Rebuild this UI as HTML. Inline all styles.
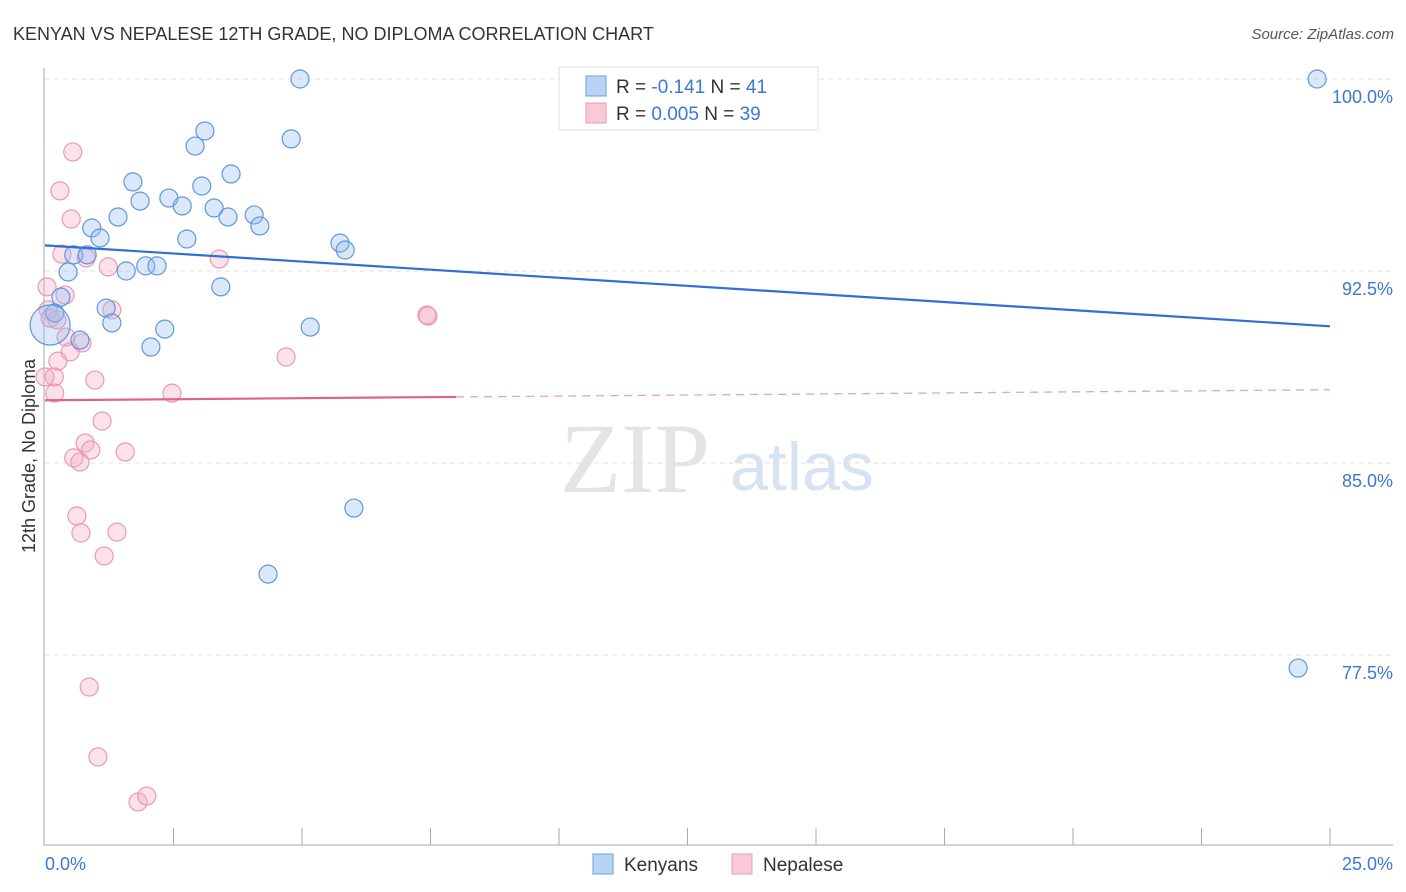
<!DOCTYPE html>
<html><head><meta charset="utf-8"><style>
body{margin:0;background:#fff;font-family:"Liberation Sans",sans-serif}
svg{display:block}
</style></head><body>
<svg width="1406" height="892" font-family="Liberation Sans, sans-serif">
<text x="13" y="40" font-size="18" fill="#333">KENYAN VS NEPALESE 12TH GRADE, NO DIPLOMA CORRELATION CHART</text>
<text x="1394" y="39" font-size="15" fill="#555" text-anchor="end" font-style="italic">Source: ZipAtlas.com</text>
<text x="635" y="492" font-size="100" fill="#e4e4e4" font-family="Liberation Serif, serif" text-anchor="middle">ZIP</text>
<text x="802" y="490" font-size="68" fill="#d6e3f3" text-anchor="middle">atlas</text>
<g id="grid"></g>
<line x1="44" y1="68" x2="44" y2="845" stroke="#aaa"/>
<line x1="44" y1="845" x2="1393" y2="845" stroke="#aaa"/>
<g id="ticks"></g>
<g id="pts"></g>
<g id="trends"></g>
<text x="35" y="456" font-size="18" fill="#333" text-anchor="middle" transform="rotate(-90 35 456)">12th Grade, No Diploma</text>
<text x="45" y="870" font-size="18" fill="#3b78d4">0.0%</text>
<text x="1393" y="870" font-size="18" fill="#3b78d4" text-anchor="end">25.0%</text>
<g>
<rect x="559" y="67" width="259" height="63" fill="#fff" stroke="#ddd"/>
<rect x="586" y="76" width="20" height="20" fill="#b9d3f5" stroke="#6a9fe0"/>
<rect x="586" y="103" width="20" height="20" fill="#f9c9d8" stroke="#eb98b4"/>
<text x="616" y="93" font-size="19" fill="#333">R = <tspan fill="#3b78d4">-0.141</tspan>   N = <tspan fill="#3b78d4">41</tspan></text>
<text x="616" y="120" font-size="19" fill="#333">R = <tspan fill="#3b78d4">0.005</tspan>   N = <tspan fill="#3b78d4">39</tspan></text>
</g>
<g>
<rect x="593" y="854" width="20" height="20" fill="#b9d3f5" stroke="#6a9fe0"/>
<text x="624" y="871" font-size="19" fill="#333">Kenyans</text>
<rect x="732" y="854" width="20" height="20" fill="#f9c9d8" stroke="#eb98b4"/>
<text x="763" y="871" font-size="19" fill="#333">Nepalese</text>
</g>
</svg>
<script>
const yTicks=[100,92.5,85,77.5];
const yTickLabels=["100.0%","92.5%","85.0%","77.5%"];
const xTicks=[2.5,5,7.5,10,12.5,15,17.5,20,22.5,25];
const kenyanX=[4.96,10.35,24.75,3.11,2.92,4.79,3.62,1.71,3.05,1.85,2.41,2.67,1.42,3.29,3.56,4.07,4.18,0.91,1.07,2.76,5.74,5.84,0.56,0.82,0.45,1.58,1.96,2.18,3.42,0.31,1.19,0.19,1.30,2.33,5.16,2.06,0.68,6.01,4.34,24.38,0.10];
const kenyanY=[100,100,100,97.97,97.38,97.66,96.29,95.98,95.82,95.23,95.35,95.04,94.61,94.96,94.61,94.69,94.26,94.18,93.79,93.75,93.59,93.32,93.13,93.13,92.46,92.5,92.7,92.7,91.88,91.48,91.05,90.86,90.47,90.23,90.31,89.53,89.8,83.24,80.66,76.99,90.39];
const nepaleseX=[0.54,0.29,0.51,0.33,0.80,1.23,3.39,0.04,0.39,1.30,0.06,0.23,0.41,0.72,0.49,0.25,0.97,0.18,0.19,2.47,4.69,7.43,7.45,1.11,0.78,0.89,1.56,0.56,0.68,0.62,0.70,1.40,1.15,0.86,1.03,1.81,1.98,0.10,0.0];
const nepaleseY=[97.15,95.63,94.53,93.16,93.01,92.66,92.97,91.88,91.56,90.98,90.98,90.59,89.92,89.69,89.34,88.98,88.24,88.36,87.73,87.73,89.14,90.78,90.74,86.64,85.78,85.51,85.43,85.2,85.04,82.93,82.27,82.3,81.37,76.25,73.52,71.76,71.99,90.66,88.36];
const kenyanTrend=[93.5,90.34];
const nepaleseTrend=[87.45,87.86];
const nepaleseSolidEnd=8;
const X=v=>45+v*51.4, Y=v=>79+(100-v)*25.6;
const NS="http://www.w3.org/2000/svg";
function mk(t,a,p){const e=document.createElementNS(NS,t);for(const k in a)e.setAttribute(k,a[k]);p.appendChild(e);return e;}
const grid=document.getElementById('grid');
yTicks.forEach((v,i)=>{
 const l=mk('line',{x1:45,x2:1393,y1:Y(v),y2:Y(v),stroke:'#e2e2e2','stroke-dasharray':'5,4'},grid);
 
 
 const t=mk('text',{x:1393,y:Y(v)+24,'font-size':18,fill:'#3b78d4','text-anchor':'end'},grid);
 t.textContent=yTickLabels[i];
 
 
});
const tk=document.getElementById('ticks');
xTicks.forEach(v=>{
 const l=mk('line',{x1:X(v),x2:X(v),y1:828,y2:845,stroke:'#aaa'},tk);
 
 
});
const pts=document.getElementById('pts');
nepaleseX.forEach((x,i)=>{
 const c=mk('circle',{cx:X(x),cy:Y(nepaleseY[i]),r:9,fill:'rgba(244,170,195,0.35)',stroke:'#eb98b4','stroke-width':1.2},pts);
 
 
});
kenyanX.forEach((x,i)=>{
 const big=i===kenyanX.length-1;
 const c=mk('circle',{cx:X(x),cy:Y(kenyanY[i]),r:big?20:9,fill:'rgba(150,190,240,0.35)',stroke:'#5f97e0','stroke-width':1.2},pts);
 
 
});
const tr=document.getElementById('trends');
const kt=mk('line',{x1:X(0),y1:Y(kenyanTrend[0]),x2:X(25),y2:Y(kenyanTrend[1]),stroke:'#2f6fd6','stroke-width':2.2},tr);


const pm=nepaleseTrend[0]+(nepaleseTrend[1]-nepaleseTrend[0])*nepaleseSolidEnd/25;
const ps=mk('line',{x1:X(0),y1:Y(nepaleseTrend[0]),x2:X(nepaleseSolidEnd),y2:Y(pm),stroke:'#e0628e','stroke-width':2.2},tr);


const pd=mk('line',{x1:X(nepaleseSolidEnd),y1:Y(pm),x2:X(25),y2:Y(nepaleseTrend[1]),stroke:'#eaa0b8','stroke-width':1.3,'stroke-dasharray':'8,6'},tr);


</script>
</body></html>
